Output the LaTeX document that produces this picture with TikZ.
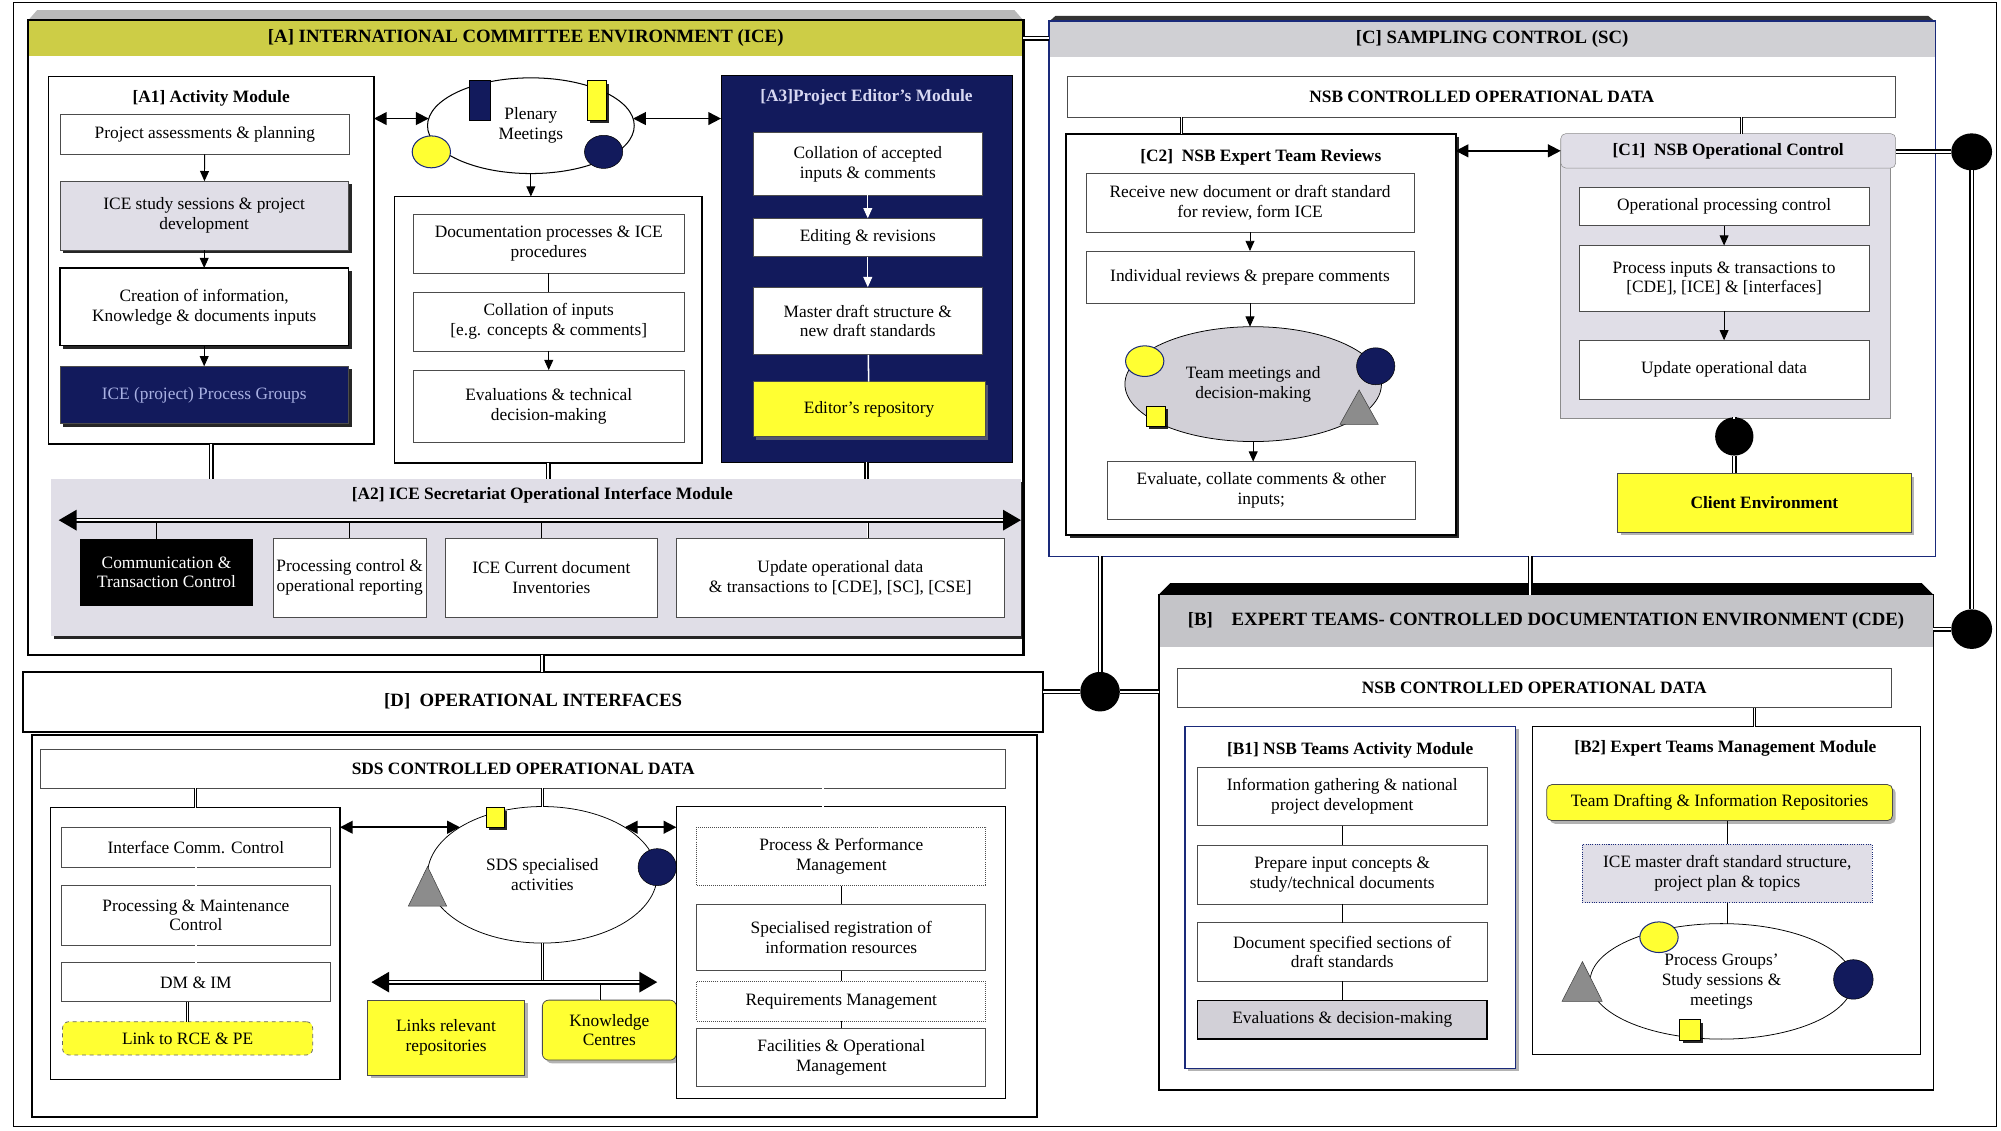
\documentclass[tikz,border=0pt]{standalone}
\usepackage{fontspec}
\setmainfont{Liberation Serif}
\usetikzlibrary{arrows.meta,shapes.geometric,shadows}

\definecolor{olivehd}{RGB}{205,205,70}
\definecolor{navy}{RGB}{18,26,92}
\definecolor{lemon}{RGB}{255,255,50}
\definecolor{lilac}{RGB}{224,222,231}
\definecolor{hdgray}{RGB}{208,208,212}
\definecolor{bhgray}{RGB}{196,196,200}
\definecolor{cblue}{RGB}{26,42,122}
\definecolor{paleblue}{RGB}{215,215,242}
\definecolor{lavtext}{RGB}{168,176,226}

\begin{document}
\begin{tikzpicture}[x=1pt, y=-1pt,
        every node/.style={font=\fontsize{13.6}{15.5}\selectfont, inner sep=1pt, outer sep=0pt, align=center},
        sz/.style 2 args={minimum width=#1pt, minimum height=#2pt, anchor=north west},
        box/.style={draw=black!70, fill=white, line width=0.6pt},
        modframe/.style={draw, line width=1.6pt},
        ttl/.style={font=\fontsize{13.6}{15.5}\selectfont\bfseries},
        hdr/.style={font=\fontsize{14.7}{16.5}\selectfont\bfseries},
        shd/.style={drop shadow={shadow xshift=2.5pt, shadow yshift=-2.5pt, fill=black, opacity=0.85}},
        lshd/.style={drop shadow={shadow xshift=2.5pt, shadow yshift=-2.5pt, fill=gray, opacity=0.6}},
        yel/.style={box, fill=lemon},
        arr/.style={-{Triangle[length=8pt,width=7pt]}, line width=0.7pt},
        warr/.style={arr, draw=white},
        dblarr/.style={{Triangle[length=10pt,width=10pt]}-{Triangle[length=10pt,width=10pt]}, line width=1.4pt},
        bus/.style={double=white, double distance=1.5pt, line width=1.3pt, {Triangle[length=14pt,width=16pt]}-{Triangle[length=14pt,width=16pt]}},
        link/.style={double=white, double distance=1.4pt, line width=1.3pt},
        stem/.style={double=white, double distance=1pt, line width=0.5pt},
        hub/.style={ellipse, fill=black},
        ycirc/.style={ellipse, draw=cblue, line width=0.8pt, fill=lemon},
        ncirc/.style={ellipse, fill=navy, draw=black, line width=0.4pt},
        tri/.style={fill=gray!90, draw=gray!50!black, line width=0.4pt},
        ysq/.style={fill=lemon, draw=black, line width=0.5pt, shd},
    ]
        \useasboundingbox (0,0) rectangle (1568,886);
        \draw[line width=1pt] (10.5,2) rectangle (1564.5,883);

        \fill[gray!55] (22,16) -- (29,8) -- (795,8) -- (802,16) -- cycle;
        \node[hdr, fill=olivehd, sz={780}{28}] (Ahead) at (22,16) {[A] INTERNATIONAL COMMITTEE ENVIRONMENT (ICE)};

        \node[box, draw=black, line width=1.2pt, sz={255}{288}] (A1) at (38,60) {};
        \node[ttl] (A1t) at (165.5,77) {[A1] Activity Module};
        \node[box, sz={227}{31}] (a1p) at (47,90) {Project assessments \& planning};
        \node[box, fill=lilac, shd, sz={226}{54}] (a1s) at (47,142) {ICE study sessions \& project\\development};
        \node[box, draw=black, line width=1pt, shd, sz={226}{61}] (a1c) at (47,210) {Creation of information,\\Knowledge \& documents inputs};
        \node[box, fill=navy, text=lavtext, shd, sz={226}{45}] (a1g) at (47,287) {ICE (project) Process Groups};
        \draw[arr] (a1p) -- (a1s);
        \draw[arr] (a1s) -- (a1c);
        \draw[arr] (a1c) -- (a1g);

        \node[ellipse, draw, line width=0.8pt, minimum width=162pt, minimum height=75pt] (plen) at (416,98.5) {Plenary\\Meetings};
        \node[fill=navy, draw=black, line width=0.4pt, sz={16}{31}] (plenN) at (368,63) {};
        \node[ysq, sz={15}{31}] (plenY) at (460,63) {};
        \node[ycirc, minimum width=30pt, minimum height=25pt] (plenC) at (338,119) {};
        \node[ncirc, minimum width=30pt, minimum height=26pt] (plenD) at (473,119) {};

        \node[box, draw=black, line width=1.2pt, sz={241}{209}] (mbox) at (309,154) {};
        \node[box, sz={212}{46}] (m1) at (324,168) {Documentation processes \& ICE\\procedures};
        \node[box, sz={212}{46}] (m2) at (324,229) {Collation of inputs\\{}[e.g. concepts \& comments]};
        \node[box, sz={212}{57}] (m3) at (324,290) {Evaluations \& technical\\decision-making};
        \draw[arr] (plen.south) -- (plen.south |- mbox.north);
        \draw[line width=0.7pt] (m1) -- (m2);
        \draw[arr] (m2) -- (m3);

        \node[fill=navy, draw=black, sz={228}{303}] (A3) at (565,59) {};
        \node[ttl, text=paleblue] (A3t) at (679,76) {[A3]Project Editor's Module};
        \node[box, sz={180}{49}] (e1) at (590,104) {Collation of accepted\\inputs \& comments};
        \node[box, sz={180}{30}] (e2) at (590,171) {Editing \& revisions};
        \node[box, sz={180}{53}] (e3) at (590,225) {Master draft structure \&\\new draft standards};
        \node[yel, lshd, sz={182}{43}] (e4) at (590,299) {Editor's repository};
        \draw[warr] (e1) -- (e2);
        \draw[warr] (e2) -- (e3);
        \draw[white, line width=1.2pt] (e3) -- (e4);

        \draw[dblarr] (plen.176) -- (plen.176 -| A1.east);
        \draw[dblarr] (plen.4) -- (plen.4 -| A3.west);

        \node[fill=lilac, shd, sz={760}{123}] (A2) at (40,375) {};
        \node[ttl] (A2t) at (425,388) {[A2] ICE Secretariat Operational Interface Module};
        \coordinate (busAL) at (46,407.6);
        \coordinate (busAR) at (800,407.6);
        \coordinate (sA1) at (122.6,407.6);
        \coordinate (sA2) at (274,407.6);
        \coordinate (sA3) at (424,407.6);
        \coordinate (sA4) at (680,407.6);
        \node[fill=black, text=white, sz={135}{53}] (comm) at (63,422) {Communication \&\\Transaction Control};
        \node[box, sz={120}{62}] (proc) at (214,421.6) {Processing control \&\\operational reporting};
        \node[box, sz={166}{62}] (inv) at (349,421.6) {ICE Current document\\Inventories};
        \node[box, sz={257}{62}] (upd) at (530,421.6) {Update operational data\\\& transactions to [CDE], [SC], [CSE]};
        \draw[line width=0.7pt] (sA1) -- (sA1 |- comm.north);
        \draw[line width=0.7pt] (sA2) -- (sA2 |- proc.north);
        \draw[line width=0.7pt] (sA3) -- (sA3 |- inv.north);
        \draw[stem] (sA4) -- (sA4 |- upd.north);
        \draw[bus] (busAL) -- (busAR);
        \draw[link] (A1.south) -- (A1.south |- A2.north);
        \draw[link] (mbox.south) -- (mbox.south |- A2.north);
        \draw[link] (A3.south) -- (A3.south |- A2.north);
        \node[modframe, sz={780}{497}] (Aframe) at (22,16) {};

        \fill[black!80] (822,17) -- (827,12.5) -- (1511,12.5) -- (1516.5,17) -- cycle;
        \node[hdr, fill=hdgray, sz={694.5}{28.5}] (Chead) at (822,16.5) {[C] SAMPLING CONTROL (SC)};
        \node[draw=cblue, line width=1pt, sz={694.5}{419.5}] (Cframe) at (822,16.5) {};
        \draw[link] (Ahead.east) -- (Ahead.east -| Cframe.west);
        \node[box, ttl, sz={649}{32}] (nsbC) at (836.6,60) {NSB CONTROLLED OPERATIONAL DATA};
        \coordinate (sC1) at (926,92);
        \coordinate (sC2) at (1364.5,92);

        \node[box, draw=black, line width=1.6pt, shd, sz={305}{314.7}] (C2) at (835.6,104.7) {};
        \node[ttl] (C2t) at (988,123) {[C2]\enspace NSB Expert Team Reviews};
        \node[box, sz={257}{46}] (c2a) at (851,135.8) {Receive new document or draft standard\\for review, form ICE};
        \node[box, sz={257}{41}] (c2b) at (851,196.7) {Individual reviews \& prepare comments};
        \node[ellipse, draw, fill=lilac!85!gray, line width=0.6pt, minimum width=201pt, minimum height=90pt] (team) at (982,301) {Team meetings and\\decision-making};
        \node[ycirc, minimum width=30pt, minimum height=24pt] (teamC) at (897,283) {};
        \node[ncirc, minimum width=30pt, minimum height=29pt] (teamN) at (1078,287) {};
        \node[ysq, sz={15}{16}] (teamY) at (898,318) {};
        \draw[tri] (1050,332.5) -- (1065,305.6) -- (1080,332.5) -- cycle;
        \node[box, sz={240.7}{45.3}] (c2c) at (868,361.7) {Evaluate, collate comments \& other\\inputs;};
        \draw[arr] (c2a) -- (c2b);
        \draw[arr] (c2b.south) -- (c2b.south |- team.north);
        \draw[arr] (team.south) -- (team.south |- c2c.north);

        \node[fill=lilac, draw=black!45, sz={258}{210}] (C1) at (1223,118) {};
        \node[ttl, fill=lilac, draw=black!45, rounded corners=4pt, sz={262.5}{27}] (C1h) at (1223,104.7) {[C1]\enspace NSB Operational Control};
        \node[box, sz={227}{30.4}] (c1a) at (1237.5,146.6) {Operational processing control};
        \node[box, sz={227}{51.6}] (c1b) at (1237.5,192.4) {Process inputs \& transactions to\\{}[CDE], [ICE] \& [interfaces]};
        \node[box, sz={227}{46}] (c1c) at (1237.5,266.6) {Update operational data};
        \draw[arr] (c1a) -- (c1b);
        \draw[arr] (c1b) -- (c1c);
        \draw[dblarr] (C2.east |- C1h) -- (C1h.west);
        \draw[stem] (sC1) -- (sC1 |- C2.north);
        \draw[stem] (sC2) -- (sC2 |- C1h.north);

        \node[hub, minimum width=30pt, minimum height=30pt] (ce) at (1359,342) {};
        \node[yel, ttl, lshd, sz={230}{46}] (client) at (1267.6,371) {Client Environment};
        \draw[link] (ce |- C1.south) -- (ce.north);
        \draw[link] (ce.south) -- (ce |- client.north);

        \fill[black] (908,466) -- (917,457) -- (1506,457) -- (1515,466) -- cycle;
        \node[hdr, fill=bhgray, sz={607}{41}] (Bhead) at (908,466) {[B]\quad EXPERT TEAMS- CONTROLLED DOCUMENTATION ENVIRONMENT (CDE)};
        \node[modframe, line width=1.2pt, sz={607}{388}] (Bframe) at (908,466) {};
        \node[box, ttl, sz={559}{30.6}] (nsbB) at (922.8,524) {NSB CONTROLLED OPERATIONAL DATA};
        \coordinate (sB1) at (1043.8,554.6);
        \coordinate (sB2) at (1375,554.6);

        \node[fill=white, draw=cblue, line width=1pt, lshd, sz={259}{268}] (B1) at (928.6,569) {};
        \node[ttl] (B1t) at (1058,588) {[B1] NSB Teams Activity Module};
        \node[box, sz={227}{46}] (b1a) at (938.3,601) {Information gathering \& national\\project development};
        \node[box, sz={227}{46}] (b1b) at (938.3,662.3) {Prepare input concepts \&\\study/technical documents};
        \node[box, sz={227}{46}] (b1c) at (938.3,723) {Document specified sections of\\draft standards};
        \node[box, fill=lilac!85!gray, draw=black, line width=1.4pt, sz={227}{30.3}] (b1d) at (938.3,784) {Evaluations \& decision-making};
        \draw[line width=0.8pt] (b1a) -- (b1b);
        \draw[line width=0.8pt] (b1b) -- (b1c);
        \draw[line width=0.8pt] (b1c) -- (b1d);

        \node[box, draw=black, line width=1pt, sz={304}{257}] (B2) at (1200.7,569.5) {};
        \node[ttl] (B2t) at (1352,586.5) {[B2] Expert Teams Management Module};
        \node[yel, rounded corners=4pt, lshd, sz={271}{28.2}] (b2y) at (1212,614.8) {Team Drafting \& Information Repositories};
        \node[fill=lilac, draw=cblue, densely dotted, line width=0.8pt, sz={227}{46}] (b2m) at (1240,661.5) {ICE master draft standard structure,\\project plan \& topics};
        \node[ellipse, draw, line width=0.6pt, minimum width=206pt, minimum height=90.5pt] (pg) at (1349,769) {Process Groups'\\Study sessions \&\\meetings};
        \node[ycirc, minimum width=30pt, minimum height=24pt] (pgC) at (1300,734.4) {};
        \node[ncirc, minimum width=31pt, minimum height=31pt] (pgN) at (1452.3,767.5) {};
        \draw[tri] (1224,784.6) -- (1240,753.5) -- (1255.5,784.6) -- cycle;
        \node[ysq, sz={16}{16}] (pgY) at (1316,799) {};
        \draw[line width=0.8pt] (b2m.north |- b2y.south) -- (b2m.north);
        \draw[line width=0.8pt] (b2m.south) -- (b2m.south |- pg.north);
        \draw[stem] (sB1) -- (sB1 |- B1.north);
        \draw[stem] (sB2) -- (sB2 |- B2.north);

        \node[modframe, fill=white, hdr, sz={799.6}{47}] (Dhead) at (18,526.3) {[D]\enspace OPERATIONAL INTERFACES};
        \node[modframe, sz={787}{299}] (Dbody) at (25.3,576) {};
        \coordinate (ad) at (425,513);
        \draw[link] (ad) -- (ad |- Dhead.north);
        \node[box, ttl, sz={756}{30.6}] (sds) at (32,587) {SDS CONTROLLED OPERATIONAL DATA};
        \coordinate (sD1) at (645,617.6);

        \node[box, draw=black, line width=1pt, sz={226.7}{212.7}] (Dl) at (39.7,633) {};
        \node[box, sz={211}{31.5}] (d1) at (48,648) {Interface Comm. Control};
        \node[box, sz={211}{46.6}] (d2) at (48,694) {Processing \& Maintenance\\Control};
        \node[box, sz={211}{30.5}] (d3) at (48,754.5) {DM \& IM};
        \node[yel, draw=black!60, dashed, rounded corners=5pt, sz={196}{26.1}] (d4) at (49,800.6) {Link to RCE \& PE};
        \draw[stem] (d1) -- (d2);
        \draw[stem] (d2) -- (d3);
        \draw[stem] (d3.south -| d4) -- (d4.north);

        \node[ellipse, draw, line width=0.6pt, minimum width=180pt, minimum height=107pt] (sdsact) at (425,685.5) {SDS specialised\\activities};
        \node[ysq, sz={14}{15}] (sdsY) at (381,633) {};
        \draw[tri] (320,710) -- (335,679) -- (350,710) -- cycle;
        \node[ncirc, minimum width=30pt, minimum height=29pt] (sdsN) at (515,679.5) {};
        \coordinate (busDL) at (291,769.6);
        \coordinate (busDR) at (515,769.6);
        \coordinate (sK) at (470,769.6);
        \node[yel, lshd, sz={123}{58.8}] (links) at (288,783.7) {Links relevant\\repositories};
        \node[yel, rounded corners=5pt, lshd, sz={105}{47}] (know) at (425,783.7) {Knowledge\\Centres};
        \draw[stem] (sdsact.south) -- (sdsact.south |- busDL);
        \draw[stem] (links.north |- busDL) -- (links.north);
        \draw[stem] (sK) -- (sK |- know.north);
        \draw[bus] (busDL) -- (busDR);

        \node[box, draw=black, line width=1pt, sz={258}{228.5}] (Dr) at (530,632) {};
        \node[box, densely dotted, sz={226.5}{46}] (r1) at (546,648) {Process \& Performance\\Management};
        \node[box, sz={226.5}{52}] (r2) at (546,708.6) {Specialised registration of\\information resources};
        \node[box, densely dotted, sz={226.5}{31}] (r3) at (546,769) {Requirements Management};
        \node[box, sz={226.5}{45.2}] (r4) at (546,805.8) {Facilities \& Operational\\Management};
        \draw[line width=0.7pt] (r1) -- (r2);
        \draw[line width=0.7pt] (r2) -- (r3);
        \draw[line width=0.7pt] (r3) -- (r4);

        \draw[stem] (Dl.north |- sds.south) -- (Dl.north);
        \draw[stem] (sdsact.north |- sds.south) -- (sdsact.north);
        \draw[stem] (sD1) -- (sD1 |- Dr.north);
        \draw[dblarr] (sdsact.150) -- (sdsact.150 -| Dl.east);
        \draw[dblarr] (sdsact.30) -- (sdsact.30 -| Dr.west);

        \node[hub, minimum width=31pt, minimum height=31pt] (jc) at (862,542) {};
        \node[hub, minimum width=32pt, minimum height=29pt] (rc1) at (1545,119) {};
        \node[hub, minimum width=32pt, minimum height=31pt] (rc2) at (1545,493) {};
        \draw[link] (jc |- Cframe.south) -- (jc.north);
        \draw[link] (jc -| Dhead.east) -- (jc.west);
        \draw[link] (jc.east) -- (jc -| Bframe.west);
        \coordinate (cb) at (1199,436);
        \draw[link] (cb) -- (cb |- Bframe.north);
        \draw[link] (rc1 -| C1h.east) -- (rc1.west);
        \draw[link] (rc1.south) -- (rc2.north);
        \draw[link] (rc2 -| Bhead.east) -- (rc2.west);
    \end{tikzpicture}
\end{document}
